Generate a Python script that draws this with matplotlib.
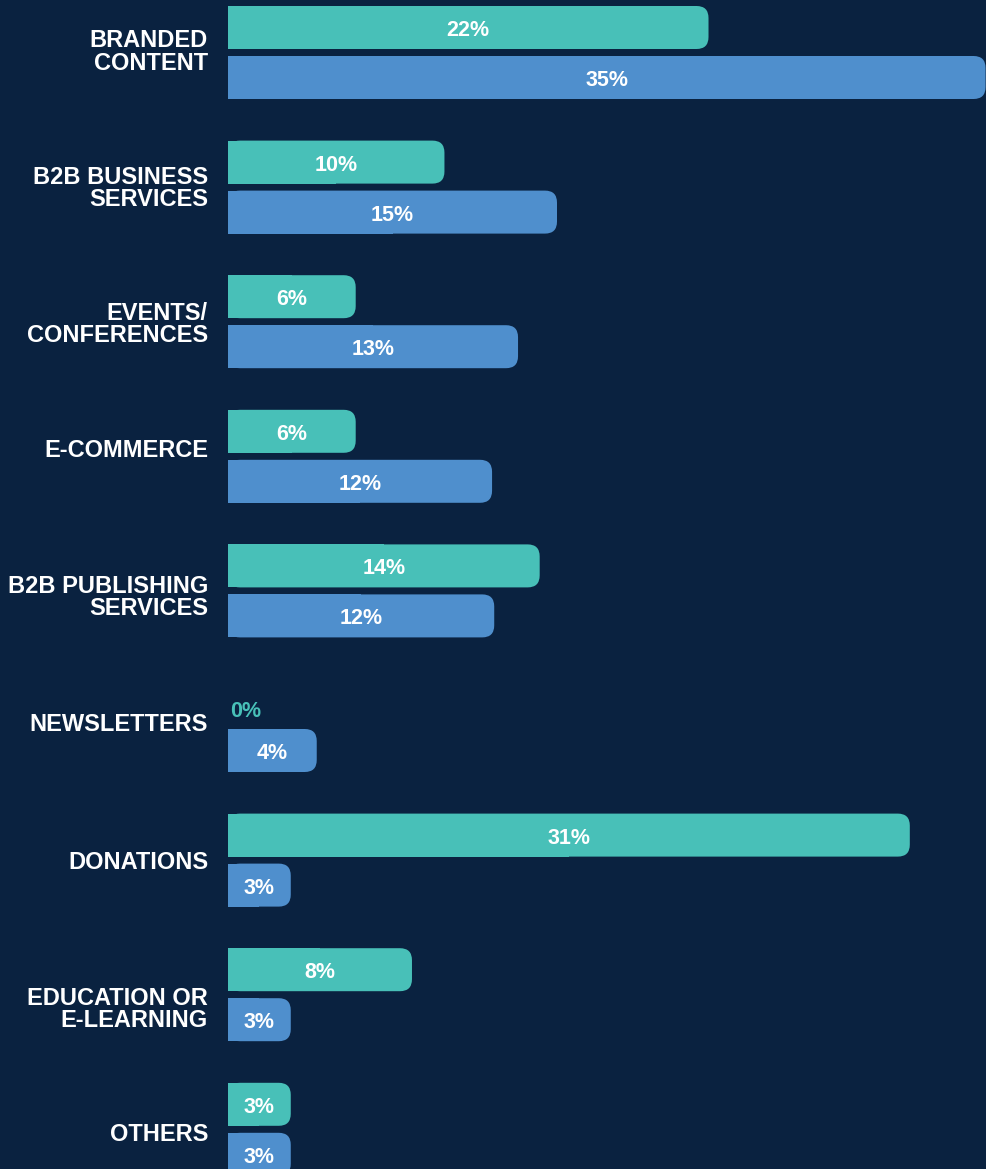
import matplotlib.pyplot as plt
import numpy as np
from matplotlib.patches import FancyBboxPatch
from matplotlib import transforms

categories = ['BRANDED\nCONTENT', 'B2B BUSINESS\nSERVICES', 'EVENTS/\nCONFERENCES',
              'E-COMMERCE', 'B2B PUBLISHING\nSERVICES', 'NEWSLETTERS',
              'DONATIONS', 'EDUCATION OR\nE-LEARNING', 'OTHERS']
# bar lengths (percent)
teal_vals = [22.2, 10.0, 5.9, 5.9, 14.4, 0.0, 31.5, 8.5, 2.9]
blue_vals = [35.0, 15.2, 13.4, 12.2, 12.3, 4.1, 2.9, 2.9, 2.9]
teal_labels = ['22%', '10%', '6%', '6%', '14%', '0%', '31%', '8%', '3%']
blue_labels = ['35%', '15%', '13%', '12%', '12%', '4%', '3%', '3%', '3%']

# small vertical nudges (px) of the category labels, as placed in the original
label_dy = [-0.5, 1, 3, -6, 7, -1, 2, 14.5, 5.5]

BG = '#0a2240'
TEAL = '#48c0b8'
BLUE = '#4f8fcd'

plt.rcParams['font.family'] = ['Liberation Sans', 'DejaVu Sans']

fig = plt.figure(figsize=(9.86, 11.69), dpi=100, facecolor=BG)
ax = fig.add_axes([228 / 986, 0, 758 / 986, 1])
ax.set_facecolor(BG)
ax.set_xlim(0, 35.02)
ax.set_ylim(1169, 0)  # y in pixels from the top
ax.axis('off')

px_per_unit = 758 / 35.02
r = 12 / px_per_unit          # corner radius in x units
aspect = 12 / r               # y units per x unit for the rounding
bar_h = 43
centers = 52.5 + 134.6 * np.arange(len(categories))


def rounded_bar(y, w, color):
    if w <= 0:
        return
    # square left half, rounded right end
    ax.barh(y, w / 2, height=bar_h, left=0, color=color, linewidth=0)
    cap = FancyBboxPatch((0, y - bar_h / 2), w, bar_h,
                         boxstyle=f'round,pad=0,rounding_size={r}',
                         mutation_aspect=aspect, facecolor=color, linewidth=0)
    ax.add_patch(cap)


label_tr = transforms.offset_copy(ax.transData, fig=fig, x=-20, y=0, units='dots')

for i, cat in enumerate(categories):
    yc = centers[i]
    yt, yb = yc - 25, yc + 25
    rounded_bar(yt, teal_vals[i], TEAL)
    rounded_bar(yb, blue_vals[i], BLUE)
    if teal_vals[i] > 0:
        ax.text(teal_vals[i] / 2, yt + 3, teal_labels[i], ha='center', va='center',
                color='white', fontsize=15.5, fontweight='bold')
    else:
        ax.text(0.12, yt + 11, teal_labels[i], ha='left', va='center',
                color=TEAL, fontsize=15.5, fontweight='bold')
    ax.text(blue_vals[i] / 2, yb + 3, blue_labels[i], ha='center', va='center',
            color='white', fontsize=15.5, fontweight='bold')
    ax.text(0, yc + label_dy[i], cat, transform=label_tr, ha='right', va='center',
            color='white', fontsize=17, fontweight='bold', linespacing=0.95,
            multialignment='right')

fig.savefig('out.png', dpi=100, facecolor=BG)
